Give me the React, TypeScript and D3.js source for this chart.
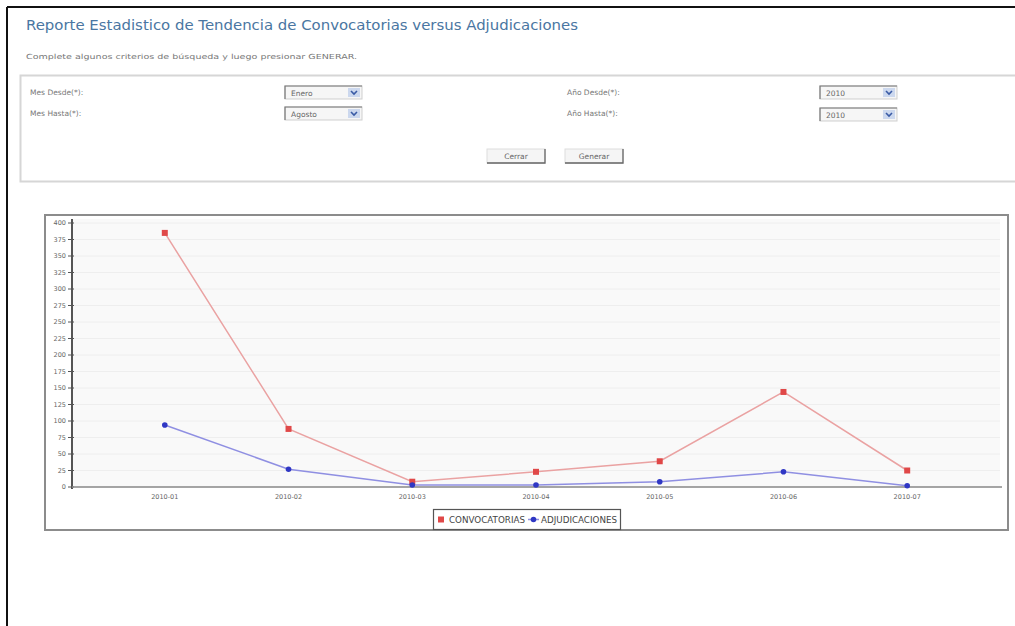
import React from "react";
import * as d3 from "d3";

// data
const months = ["2010-01", "2010-02", "2010-03", "2010-04", "2010-05", "2010-06", "2010-07"];
const convocatorias = [385, 88, 8, 23, 39, 144, 25];
const adjudicaciones = [94, 27, 3, 3, 8, 23, 2];
const yTickValues = [0, 25, 50, 75, 100, 125, 150, 175, 200, 225, 250, 275, 300, 325, 350, 375, 400];
const seriesNames = ["CONVOCATORIAS", "ADJUDICACIONES"];

const W = 1015;
const H = 626;
const FONT = "'DejaVu Sans', Verdana, sans-serif";

const Select: React.FC<{ x: number; y: number; w: number; label: string }> = ({ x, y, w, label }) => (
  <g>
    <rect x={x} y={y} width={w} height={13} fill="#f6f6f6" stroke="#cfcfcf" />
    <path d={`M${x},${y + 13} V${y} H${x + w}`} fill="none" stroke="#777" strokeWidth={1.2} />
    <text x={x + 6} y={y + 10} fontSize={7.5} fill="#666" fontFamily={FONT}>{label}</text>
    <rect x={x + w - 14} y={y + 2} width={12} height={9} fill="#ccd8ee" />
    <path d={`M${x + w - 11},${y + 5} l3,3 l3,-3`} fill="none" stroke="#3a5ba5" strokeWidth={1.6} />
  </g>
);

const Button: React.FC<{ x: number; y: number; w: number; label: string }> = ({ x, y, w, label }) => (
  <g>
    <rect x={x} y={y} width={w} height={14} fill="#f5f5f5" stroke="#dddddd" />
    <path d={`M${x},${y + 14} H${x + w} V${y}`} fill="none" stroke="#666" strokeWidth={1.3} />
    <text x={x + w / 2} y={y + 10} fontSize={7.5} fill="#666" textAnchor="middle" fontFamily={FONT}>{label}</text>
  </g>
);

export default function App() {
  const plot = { left: 72, right: 1000, top: 219, bottom: 487 };

  const x = d3.scalePoint<string>().domain(months).range([plot.left, plot.right]).padding(0.75);
  const y = d3.scaleLinear().domain([0, 400]).range([487, 223]);

  const line = d3
    .line<number>()
    .x((_, i) => x(months[i]) ?? 0)
    .y((d) => y(d));

  const convColor = "#e04848";
  const convLine = "#eaa2a2";
  const adjColor = "#2f37c4";
  const adjLine = "#8f8fe2";

  return (
    <div style={{ position: "absolute", left: 0, top: 0 }}>
      <svg width={W} height={H} style={{ display: "block", background: "#fff" }}>
        {/* outer frame */}
        <line x1={7} y1={7} x2={W} y2={7} stroke="#111" strokeWidth={2} />
        <line x1={7} y1={7} x2={7} y2={H} stroke="#111" strokeWidth={2} />

        {/* header */}
        <text x={26} y={30} fontSize={14} fill="#4a76a2" fontFamily={FONT} textLength={552} lengthAdjust="spacingAndGlyphs">
          Reporte Estadistico de Tendencia de Convocatorias versus Adjudicaciones
        </text>
        <text x={26} y={59} fontSize={7} fill="#777" fontFamily={FONT} textLength={331} lengthAdjust="spacingAndGlyphs">
          Complete algunos criterios de búsqueda y luego presionar GENERAR.
        </text>

        {/* form panel */}
        <path d={`M${W},75.5 H20.5 V181.5 H${W}`} fill="none" stroke="#d6d6d6" strokeWidth={2} />
        <text x={30} y={95} fontSize={7.5} fill="#777" fontFamily={FONT}>Mes Desde(*):</text>
        <text x={30} y={116} fontSize={7.5} fill="#777" fontFamily={FONT}>Mes Hasta(*):</text>
        <text x={567} y={95} fontSize={7.5} fill="#777" fontFamily={FONT}>Año Desde(*):</text>
        <text x={567} y={116} fontSize={7.5} fill="#777" fontFamily={FONT}>Año Hasta(*):</text>
        <Select x={285} y={86} w={77} label="Enero" />
        <Select x={285} y={107} w={77} label="Agosto" />
        <Select x={820} y={86} w={77} label="2010" />
        <Select x={820} y={108} w={77} label="2010" />
        <Button x={487} y={149} w={58} label="Cerrar" />
        <Button x={565} y={149} w={58} label="Generar" />

        {/* chart box */}
        <rect x={45} y={215} width={963} height={315} fill="#fff" stroke="#8c8c8c" strokeWidth={2} />
        <rect x={plot.left} y={plot.top} width={plot.right - plot.left} height={plot.bottom - plot.top} fill="#f9f9f9" />

        {/* grid */}
        {yTickValues.map((t) => (
          <line key={`g${t}`} x1={plot.left} x2={plot.right} y1={y(t)} y2={y(t)} stroke="#eeeeee" strokeWidth={1} />
        ))}

        {/* y axis */}
        <line x1={plot.left} x2={plot.left} y1={plot.top} y2={489} stroke="#555" strokeWidth={2} />
        {yTickValues.map((t) => (
          <g key={`yt${t}`} transform={`translate(0,${y(t)})`}>
            <line x1={plot.left - 4} x2={plot.left + 2} stroke="#555" strokeWidth={1} />
            <text x={plot.left - 6} dy="0.32em" fontSize={6.5} fill="#666" textAnchor="end" fontFamily={FONT}>
              {t}
            </text>
          </g>
        ))}

        {/* x axis */}
        <line x1={plot.left} x2={1002} y1={487} y2={487} stroke="#8a8a8a" strokeWidth={1.5} />
        {months.map((m) => (
          <text key={m} x={x(m)} y={499} fontSize={6.5} fill="#666" textAnchor="middle" fontFamily={FONT}>
            {m}
          </text>
        ))}

        {/* series */}
        <path d={line(convocatorias) ?? ""} fill="none" stroke={convLine} strokeWidth={1.5} />
        <path d={line(adjudicaciones) ?? ""} fill="none" stroke={adjLine} strokeWidth={1.5} />
        {convocatorias.map((v, i) => (
          <rect key={`c${i}`} x={(x(months[i]) ?? 0) - 3} y={y(v) - 3} width={6} height={6} fill={convColor} />
        ))}
        {adjudicaciones.map((v, i) => (
          <circle key={`a${i}`} cx={x(months[i]) ?? 0} cy={y(v)} r={2.8} fill={adjColor} />
        ))}

        {/* legend */}
        <rect x={433.5} y={509.5} width={187} height={20} fill="#fff" stroke="#555" strokeWidth={1.2} />
        <rect x={438} y={516.5} width={6} height={6} fill={convColor} />
        <text x={449} y={523} fontSize={8.5} fill="#444" fontFamily={FONT} textLength={76} lengthAdjust="spacingAndGlyphs">
          {seriesNames[0]}
        </text>
        <line x1={528} x2={539} y1={519.5} y2={519.5} stroke={adjLine} strokeWidth={1.5} />
        <circle cx={533.5} cy={519.5} r={2.8} fill={adjColor} />
        <text x={541} y={523} fontSize={8.5} fill="#444" fontFamily={FONT} textLength={76} lengthAdjust="spacingAndGlyphs">
          {seriesNames[1]}
        </text>
      </svg>
    </div>
  );
}
